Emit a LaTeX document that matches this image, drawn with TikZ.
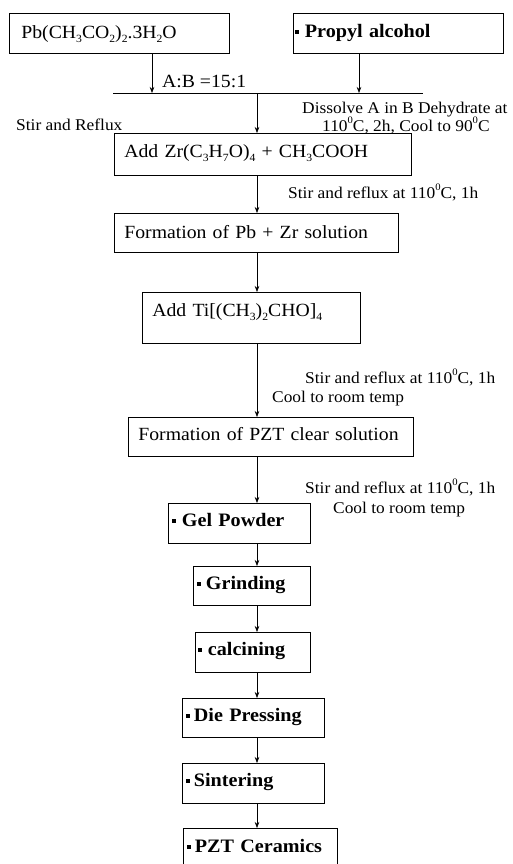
\documentclass[tikz,border=0pt]{standalone}
\usepackage{fontspec}
\setmainfont[FakeStretch=1.06]{Liberation Serif}
\usetikzlibrary{arrows.meta}
\newcommand\boxfnt{\fontsize{18.6bp}{22bp}\selectfont}
\newcommand\labfnt{\fontsize{16.4bp}{19bp}\selectfont}
\newcommand\bldfnt{\fontsize{19bp}{22bp}\selectfont\bfseries}
\newcommand\sqbul{\rule[0.2em]{3.5bp}{3.5bp}}
\newcommand\sbs[1]{\raisebox{-0.22em}{\fontsize{11bp}{11bp}\selectfont #1}}
\newcommand\sps[1]{\raisebox{0.45em}{\fontsize{10bp}{10bp}\selectfont #1}}
\tikzset{
  box/.style={draw, line width=0.8bp, anchor=north west, inner xsep=10bp, inner ysep=0pt, align=left, font=\boxfnt},
  bbox/.style={box, inner xsep=4bp, font=\bldfnt},
  lab/.style={anchor=base west, inner sep=0pt, font=\labfnt},
  arr/.style={line width=0.6bp, -{Stealth[length=6bp,width=4.5bp]}},
  plain/.style={line width=0.6bp}
}
\begin{document}
\begin{tikzpicture}[x=1bp,y=-1bp]
\useasboundingbox[fill=white] (0,0) rectangle (513,864);
% top boxes
\node[box, inner xsep=12bp, text width=196bp, minimum height=40bp, text height=25bp, text depth=15bp] (b1) at (9,13)
  {\mbox{Pb(CH\sbs{3}CO\sbs{2})\sbs{2}.3H\sbs{2}O}};
\node[bbox, inner xsep=2bp, text width=206bp, minimum height=40bp, text height=24bp, text depth=16bp] (b2) at (293,13)
  {\mbox{\sqbul\hspace{6bp}Propyl alcohol}};
% junction line
\coordinate (hl) at (113,93);
\coordinate (hr) at (423,93);
\coordinate (j1) at (152,93);
\coordinate (j2) at (359,93);
\coordinate (jm) at (257,93);
\coordinate (sp) at (257,0);
\draw[plain] (hl) -- (hr);
\draw[arr] (b1.south -| j1) -- (j1);
\draw[arr] (b2.south -| j2) -- (j2);
\node[lab, font=\boxfnt] (ab) at (162,87) {A:B =15:1};
\node[lab] (d1) at (302,113) {Dissolve A in B Dehydrate at};
\node[lab] (d2) at (322,131) {110\sps{0}C, 2h, Cool to 90\sps{0}C};
\node[lab] (sr) at (16,130) {Stir and Reflux};
% process boxes
\node[box, text width=277bp, minimum height=42bp, text height=24bp, text depth=18bp] (b3) at (114,133)
  {\mbox{Add Zr(C\sbs{3}H\sbs{7}O)\sbs{4} + CH\sbs{3}COOH}};
\node[box, text width=264bp, minimum height=39bp, text height=25bp, text depth=14bp] (b4) at (114,213)
  {\mbox{Formation of Pb + Zr solution}};
\node[box, text width=198bp, minimum height=51bp, text height=24bp, text depth=27bp] (b5) at (142,292)
  {\mbox{Add Ti[(CH\sbs{3})\sbs{2}CHO]\sbs{4}}};
\node[box, text width=265bp, minimum height=39bp, text height=23bp, text depth=16bp] (b6) at (128,417)
  {\mbox{Formation of PZT clear solution}};
\node[lab] (l1) at (288,198) {Stir and reflux at 110\sps{0}C, 1h};
\node[lab] (l2) at (305,383) {Stir and reflux at 110\sps{0}C, 1h};
\node[lab] (l3) at (272,402) {Cool to room temp};
\node[lab] (l4) at (305,493) {Stir and reflux at 110\sps{0}C, 1h};
\node[lab] (l5) at (333,513) {Cool to room temp};
% bold boxes
\node[bbox, text width=134bp, minimum height=40bp, text height=23bp, text depth=17bp] (b7) at (168,503)
  {\mbox{\sqbul\hspace{6bp}Gel Powder}};
\node[bbox, text width=109bp, minimum height=39bp, text height=23bp, text depth=16bp] (b8) at (193,566)
  {\mbox{\sqbul\hspace{5bp}Grinding}};
\node[bbox, inner xsep=3bp, text width=109bp, minimum height=40bp, text height=23bp, text depth=17bp] (b9) at (195,632)
  {\mbox{\sqbul\hspace{6bp}calcining}};
\node[bbox, text width=134bp, minimum height=39bp, text height=23bp, text depth=16bp] (b10) at (182,698)
  {\mbox{\sqbul\hspace{4bp}Die Pressing}};
\node[bbox, text width=134bp, minimum height=40bp, text height=23bp, text depth=17bp] (b11) at (182,763)
  {\mbox{\sqbul\hspace{4bp}Sintering}};
\node[bbox, text width=146bp, minimum height=40bp, text height=24bp, text depth=16bp] (b12) at (183,828)
  {\mbox{\sqbul\hspace{4bp}PZT Ceramics}};
% connectors
\draw[arr] (jm) -- (b3.north -| jm);
\draw[arr] (b3.south -| sp) -- (b4.north -| sp);
\draw[arr] (b4.south -| sp) -- (b5.north -| sp);
\draw[arr] (b5.south -| sp) -- (b6.north -| sp);
\draw[arr] (b6.south -| sp) -- (b7.north -| sp);
\draw[arr] (b7.south -| sp) -- (b8.north -| sp);
\draw[arr] (b8.south -| sp) -- (b9.north -| sp);
\draw[arr] (b9.south -| sp) -- (b10.north -| sp);
\draw[arr] (b10.south -| sp) -- (b11.north -| sp);
\draw[arr] (b11.south -| sp) -- (b12.north -| sp);
\end{tikzpicture}
\end{document}
